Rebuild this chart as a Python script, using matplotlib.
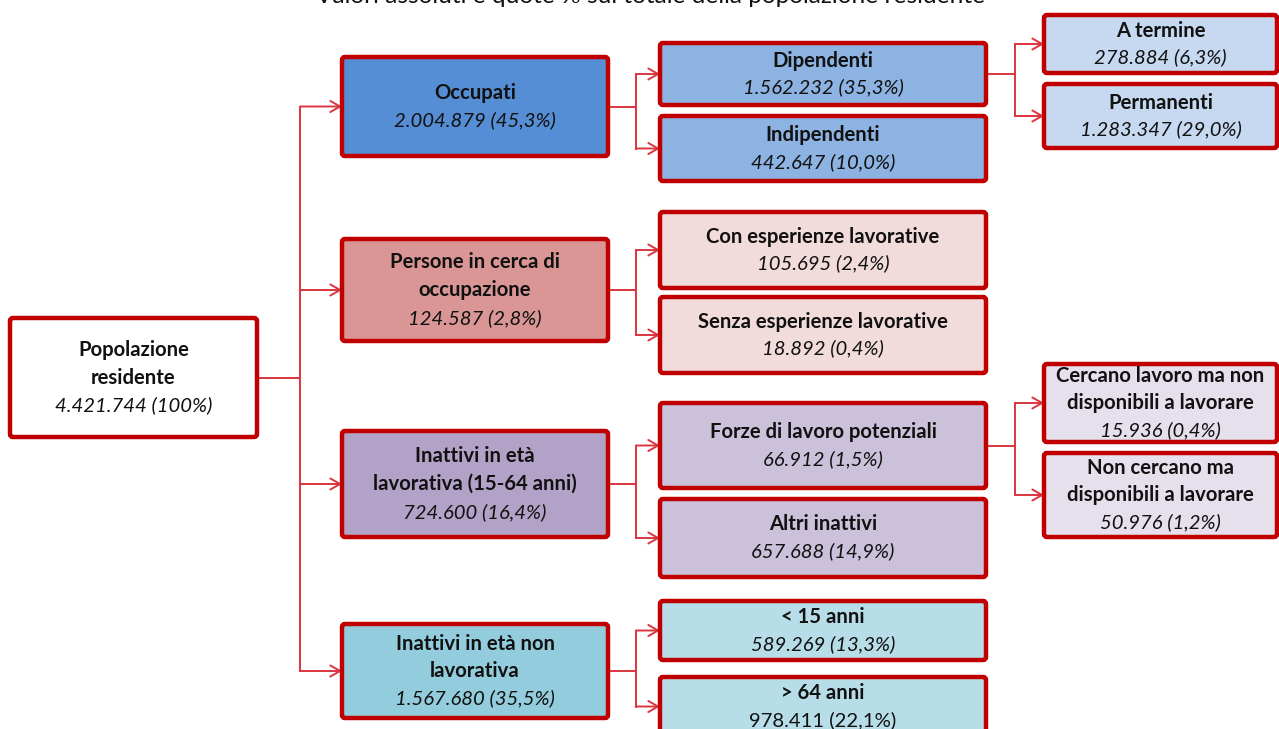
import matplotlib.pyplot as plt
from matplotlib.patches import FancyBboxPatch

plt.rcParams['font.family'] = ['Lato', 'DejaVu Sans']

W, H = 1279, 729

title = "Valori assoluti e quote % sul totale della popolazione residente"

# data: labels, counts, shares
root_label = "Popolazione\nresidente"
root_count = 4421744
root_share = 100

l1_labels = ["Occupati", "Persone in cerca di\noccupazione",
             "Inattivi in età\nlavorativa (15-64 anni)", "Inattivi in età non\nlavorativa"]
l1_counts = [2004879, 124587, 724600, 1567680]
l1_shares = [45.3, 2.8, 16.4, 35.5]

l2_labels = ["Dipendenti", "Indipendenti",
             "Con esperienze lavorative", "Senza esperienze lavorative",
             "Forze di lavoro potenziali", "Altri inattivi",
             "< 15 anni", "> 64 anni"]
l2_counts = [1562232, 442647, 105695, 18892, 66912, 657688, 589269, 978411]
l2_shares = [35.3, 10.0, 2.4, 0.4, 1.5, 14.9, 13.3, 22.1]
l2_parent = [0, 0, 1, 1, 2, 2, 3, 3]

l3_labels = ["A termine", "Permanenti",
             "Cercano lavoro ma non\ndisponibili a lavorare",
             "Non cercano ma\ndisponibili a lavorare"]
l3_counts = [278884, 1283347, 15936, 50976]
l3_shares = [6.3, 29.0, 0.4, 1.2]
l3_parent = [0, 0, 4, 4]

# layout (pixels, y from top)
root_box = (10, 257, 318, 437)
l1_x = (342, 608)
l1_y = [(57, 156), (239, 341), (431, 537), (624, 718)]
l2_x = (660, 986)
l2_y = [(43, 105), (116, 181), (212, 288), (297, 373),
        (403, 488), (499, 577), (601, 660), (677, 736)]
l3_x = (1044, 1277)
l3_y = [(15, 73), (84, 148), (364, 442), (453, 537)]

l1_colors = ["#558ED5", "#D99694", "#B3A2C7", "#93CDDD"]
l2_colors = ["#8DB3E2", "#F2DCDB", "#CCC1DA", "#B7DEE8"]
l3_colors = {0: "#C6D9F1", 4: "#E6E0EC"}

border = "#C00000"
link = "#D9363E"
fs = 14.6
line_h = 28


def fmt(n, p):
    num = f"{n:,}".replace(",", ".")
    if p == 100:
        return f"{num} (100%)"
    pct = f"{p:.1f}".replace(".", ",")
    return f"{num} ({pct}%)"


def box(ax, x0, x1, y0, y1, color, label, value, italic=True):
    ax.add_patch(FancyBboxPatch((x0, y0), x1 - x0, y1 - y0,
                                boxstyle="round,pad=0,rounding_size=3",
                                fc=color, ec=border, lw=3.2, zorder=2))
    lines = label.split("\n") + [value]
    cy = (y0 + y1) / 2
    n = len(lines)
    lh = line_h if n == 3 and (y1 - y0) > 95 else 27
    for i, t in enumerate(lines):
        y = cy + (i - (n - 1) / 2) * lh
        last = i == n - 1
        ax.text((x0 + x1) / 2, y, t, ha="center", va="center", fontsize=fs,
                fontweight="normal" if last else "bold",
                fontstyle="italic" if (last and italic) else "normal",
                color="#111111", zorder=3)


def arrow(ax, xa, xb, y):
    ax.annotate("", xy=(xb, y), xytext=(xa, y),
                arrowprops=dict(arrowstyle="->,head_length=0.7,head_width=0.4",
                                color=link, lw=1.4, shrinkA=0, shrinkB=0),
                zorder=1)


def fork(ax, x_from, y_from, x_mid, x_to, ys):
    ax.plot([x_from, x_mid], [y_from, y_from], color=link, lw=1.4, zorder=1)
    ax.plot([x_mid, x_mid], [min(ys), max(ys)], color=link, lw=1.4, zorder=1)
    for y in ys:
        arrow(ax, x_mid, x_to, y)


fig = plt.figure(figsize=(W / 100, H / 100), dpi=100)
ax = fig.add_axes([0, 0, 1, 1])
ax.set_xlim(0, W)
ax.set_ylim(H, 0)
ax.axis("off")

ax.text(651, 3, title, ha="center", va="baseline", fontsize=17.6, color="#111111")

mid = lambda r: (r[0] + r[1]) / 2

# root
box(ax, *root_box, "white", root_label, fmt(root_count, root_share))
fork(ax, root_box[1], mid(root_box[2:]), 300, l1_x[0], [mid(r) for r in l1_y])

# level 1
for i, (lab, c, s) in enumerate(zip(l1_labels, l1_counts, l1_shares)):
    box(ax, *l1_x, *l1_y[i], l1_colors[i], lab, fmt(c, s))
    kids = [j for j, p in enumerate(l2_parent) if p == i]
    fork(ax, l1_x[1], mid(l1_y[i]), 636, l2_x[0], [mid(l2_y[j]) for j in kids])

# level 2
for j, (lab, c, s) in enumerate(zip(l2_labels, l2_counts, l2_shares)):
    box(ax, *l2_x, *l2_y[j], l2_colors[l2_parent[j]], lab, fmt(c, s),
        italic=(j != 7))
    kids = [k for k, p in enumerate(l3_parent) if p == j]
    if kids:
        fork(ax, l2_x[1], mid(l2_y[j]), 1015, l3_x[0], [mid(l3_y[k]) for k in kids])

# level 3
for k, (lab, c, s) in enumerate(zip(l3_labels, l3_counts, l3_shares)):
    box(ax, *l3_x, *l3_y[k], l3_colors[l3_parent[k]], lab, fmt(c, s))

fig.savefig("out.png", dpi=100)
